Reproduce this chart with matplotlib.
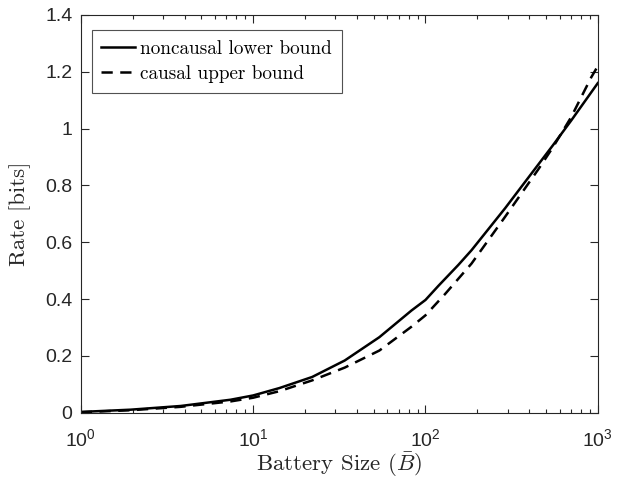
"""
    Rate bounds versus battery size (log x axis), MATLAB-like style.
"""

import math
import matplotlib
matplotlib.use('Agg')
import matplotlib.pyplot as plt
from matplotlib.ticker import FixedLocator, FuncFormatter, LogLocator, NullFormatter

# Values
battery_lower = [1, 1.95, 3.8, 7.4, 10, 14.2, 22, 34, 54, 83, 100, 119, 155,
                 185, 290, 452, 550, 700, 960, 1000]
noncausal_lower = [0.003, 0.011, 0.024, 0.046, 0.061, 0.087, 0.126, 0.184,
                   0.266, 0.36, 0.397, 0.447, 0.52, 0.572, 0.72, 0.874,
                   0.942, 1.028, 1.145, 1.16]
battery_upper = [1, 1.95, 3.8, 7.4, 10, 14.2, 22, 34, 54, 83, 100, 130, 185,
                 290, 452, 550, 700, 915, 1000]
causal_upper = [0.002, 0.009, 0.021, 0.040, 0.053, 0.076, 0.114, 0.159,
                0.219, 0.303, 0.343, 0.418, 0.525, 0.69, 0.857, 0.935,
                1.04, 1.18, 1.22]
y_ticks = [0, 0.2, 0.4, 0.6, 0.8, 1.0, 1.2, 1.4]
y_tick_labels = ['0', '0.2', '0.4', '0.6', '0.8', '1', '1.2', '1.4']

serif = 'cmr10'
sans = 'Liberation Sans'
axis_grey = '#262626'
plt.rcParams['axes.formatter.use_mathtext'] = True

fig = plt.figure(figsize=(6.26, 4.8), dpi=100)
ax = fig.add_axes([0.129, 0.140, 0.826, 0.829])

ax.plot(battery_lower, noncausal_lower, '-', color='black', linewidth=1.8,
        label='noncausal lower bound')
ax.plot(battery_upper, causal_upper, '--', color='black', linewidth=1.8,
        dashes=(4.5, 3), label='causal upper bound')

ax.set_xscale('log')
ax.set_xlim(1, 1000)
ax.set_ylim(0, 1.4)

ax.yaxis.set_major_locator(FixedLocator(y_ticks))
ax.set_yticklabels(y_tick_labels, fontfamily=sans)
ax.xaxis.set_major_locator(LogLocator(base=10, numticks=10))
ax.xaxis.set_minor_locator(LogLocator(base=10, subs=range(2, 10), numticks=10))
ax.xaxis.set_minor_formatter(NullFormatter())
ax.xaxis.set_major_formatter(FuncFormatter(
    lambda v, pos: r'$\mathdefault{10^{%d}}$' % round(math.log10(v))))

ax.tick_params(which='both', direction='in', top=True, right=True,
               colors=axis_grey, labelsize=14, labelfontfamily=sans)
ax.tick_params(which='major', length=6, width=0.8)
ax.tick_params(which='minor', length=3, width=0.8)
ax.tick_params(axis='y', pad=6)
ax.tick_params(axis='x', pad=11)
for s in ax.spines.values():
    s.set_color(axis_grey)
    s.set_linewidth(0.8)

ax.set_xlabel(r'Battery Size ($\bar{B}$)', fontfamily=serif, fontsize=16.5,
              color=axis_grey, labelpad=0.5, math_fontfamily='cm')
ax.set_ylabel('Rate [bits]', fontfamily=serif, fontsize=16.5,
              color=axis_grey, labelpad=10)

leg = ax.legend(loc='upper left', bbox_to_anchor=(0.021, 0.962),
                prop={'family': serif, 'size': 13.8},
                frameon=True, fancybox=False, edgecolor=axis_grey,
                handlelength=1.75, handletextpad=0.3, borderpad=0.5,
                labelspacing=0.4, borderaxespad=0)
leg.get_frame().set_linewidth(0.8)

fig.savefig('out.png', dpi=100)
